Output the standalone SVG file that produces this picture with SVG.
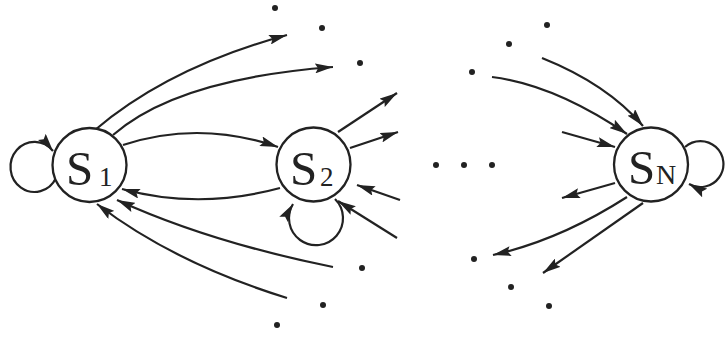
<svg xmlns="http://www.w3.org/2000/svg" width="725" height="337" viewBox="0 0 725 337">
<defs>
<marker id="ah" markerUnits="userSpaceOnUse" markerWidth="19" markerHeight="10" refX="18" refY="5" orient="auto">
<path d="M0,0 L18,5 L0,10 L3,5 z" fill="#222"/>
</marker>
<style>
.node circle{fill:#fff;stroke:#222;stroke-width:2.3}
.lbl{font-family:"Liberation Serif","Times New Roman",serif;fill:#222}
.big{font-size:49px}
.sub{font-size:27px}
#edges path{fill:none;stroke:#222;stroke-width:2.2;marker-end:url(#ah)}
.dot{fill:#222}
</style>
</defs>
<rect width="725" height="337" fill="#fff"/>
<g id="edges">
<path d="M95,130 Q169,67 287,35"/>
<path d="M113,135 Q177,79 333,67"/>
<path d="M123,145 Q199,120 278,147"/>
<path d="M280,188 Q199,210 122,189"/>
<path d="M333,267 Q209,242 117,200"/>
<path d="M287,298 Q174,263 97,204"/>
<path d="M56,178 A24 25 0 1 1 53,151"/>
<path d="M338,132 L397,93"/>
<path d="M350,148 L398,132"/>
<path d="M400,200 L357,185"/>
<path d="M397,238 L338,201"/>
<path d="M335,199 A27 27 0 1 1 293,204"/>
<path d="M542,58 Q607,84 643,126"/>
<path d="M492,77 Q555,85 627,134"/>
<path d="M562,132 L615,147"/>
<path d="M615,183 L562,198"/>
<path d="M627,197 Q560,240 493,255"/>
<path d="M643,203 L543,273"/>
<path d="M685,147 A23 23 0 1 1 689,184"/>
</g>
<g id="S1" class="node">
<circle cx="89.5" cy="165" r="37"/>
<text class="lbl big" x="66" y="185">S</text>
<text class="lbl sub" x="99" y="186">1</text>
</g>
<g id="S2" class="node">
<circle cx="313.5" cy="164.5" r="37"/>
<text class="lbl big" x="290" y="185">S</text>
<text class="lbl sub" x="320" y="186">2</text>
</g>
<g id="SN" class="node">
<circle cx="651" cy="164.5" r="37"/>
<text class="lbl big" x="628" y="184">S</text>
<text class="lbl sub" x="656" y="184" style="font-size:28px">N</text>
</g>
<g id="dots">
<circle class="dot" cx="275" cy="8" r="3"/>
<circle class="dot" cx="322" cy="28" r="3"/>
<circle class="dot" cx="360" cy="63" r="3"/>
<circle class="dot" cx="362" cy="268" r="3"/>
<circle class="dot" cx="323" cy="305" r="3"/>
<circle class="dot" cx="277" cy="325" r="3"/>
<circle class="dot" cx="547" cy="25" r="3"/>
<circle class="dot" cx="509" cy="44" r="3"/>
<circle class="dot" cx="472" cy="72" r="3"/>
<circle class="dot" cx="436" cy="165" r="3"/>
<circle class="dot" cx="464" cy="165" r="3"/>
<circle class="dot" cx="492" cy="165" r="3"/>
<circle class="dot" cx="474" cy="259" r="3"/>
<circle class="dot" cx="511" cy="287" r="3"/>
<circle class="dot" cx="549" cy="306" r="3"/>
</g>
</svg>
